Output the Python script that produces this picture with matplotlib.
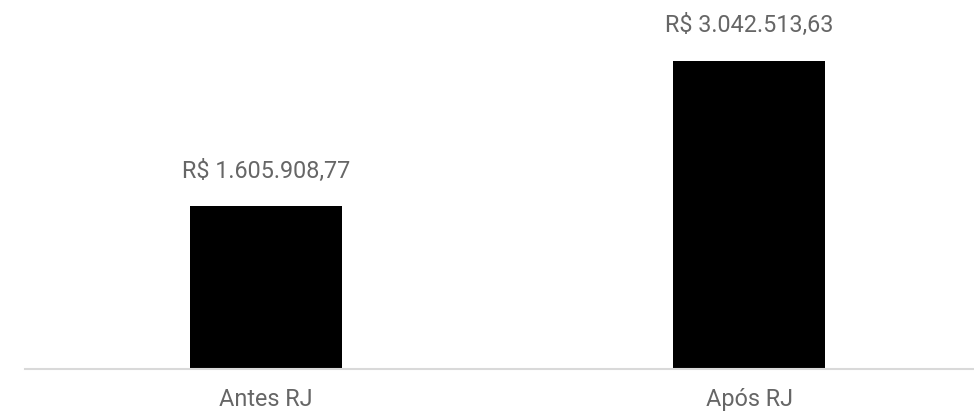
import matplotlib.pyplot as plt

plt.rcParams['font.family'] = ['Roboto', 'DejaVu Sans']

categories = ['Antes RJ', 'Após RJ']
values = [1605908.77, 3042513.63]
value_labels = ['R$ 1.605.908,77', 'R$ 3.042.513,63']

W, H = 974, 411
fig = plt.figure(figsize=(W / 100, H / 100), dpi=100)

# axes spans full width, bottom at the baseline (pixel 369 from top)
base_px = 369
ax = fig.add_axes([0, (H - base_px) / H, 1, base_px / H])

px_per_cat = 483.0
x0_px = 266.0
ax.set_xlim(-x0_px / px_per_cat, (W - x0_px) / px_per_cat)
top_px = 308.0
ax.set_ylim(0, values[1] * base_px / top_px)

x = range(len(categories))
bars = ax.bar(x, values, width=152 / px_per_cat, color='black')

for b, lab in zip(bars, value_labels):
    ax.annotate(lab, (b.get_x() + b.get_width() / 2, b.get_height()),
                textcoords='offset points', xytext=(0, 17), ha='center',
                va='bottom', fontsize=16.8, color='#666666')

for s in ['top', 'right', 'left']:
    ax.spines[s].set_visible(False)
ax.spines['bottom'].set_color('#d9d9d9')
ax.spines['bottom'].set_linewidth(1.5)
ax.spines['bottom'].set_bounds(-0.5, 1.6)

ax.set_yticks([])
ax.set_xticks(list(x))
ax.set_xticklabels(categories, fontsize=16.8, color='#666666')
ax.tick_params(axis='x', length=0, pad=14)

fig.savefig('out.png', dpi=100)
